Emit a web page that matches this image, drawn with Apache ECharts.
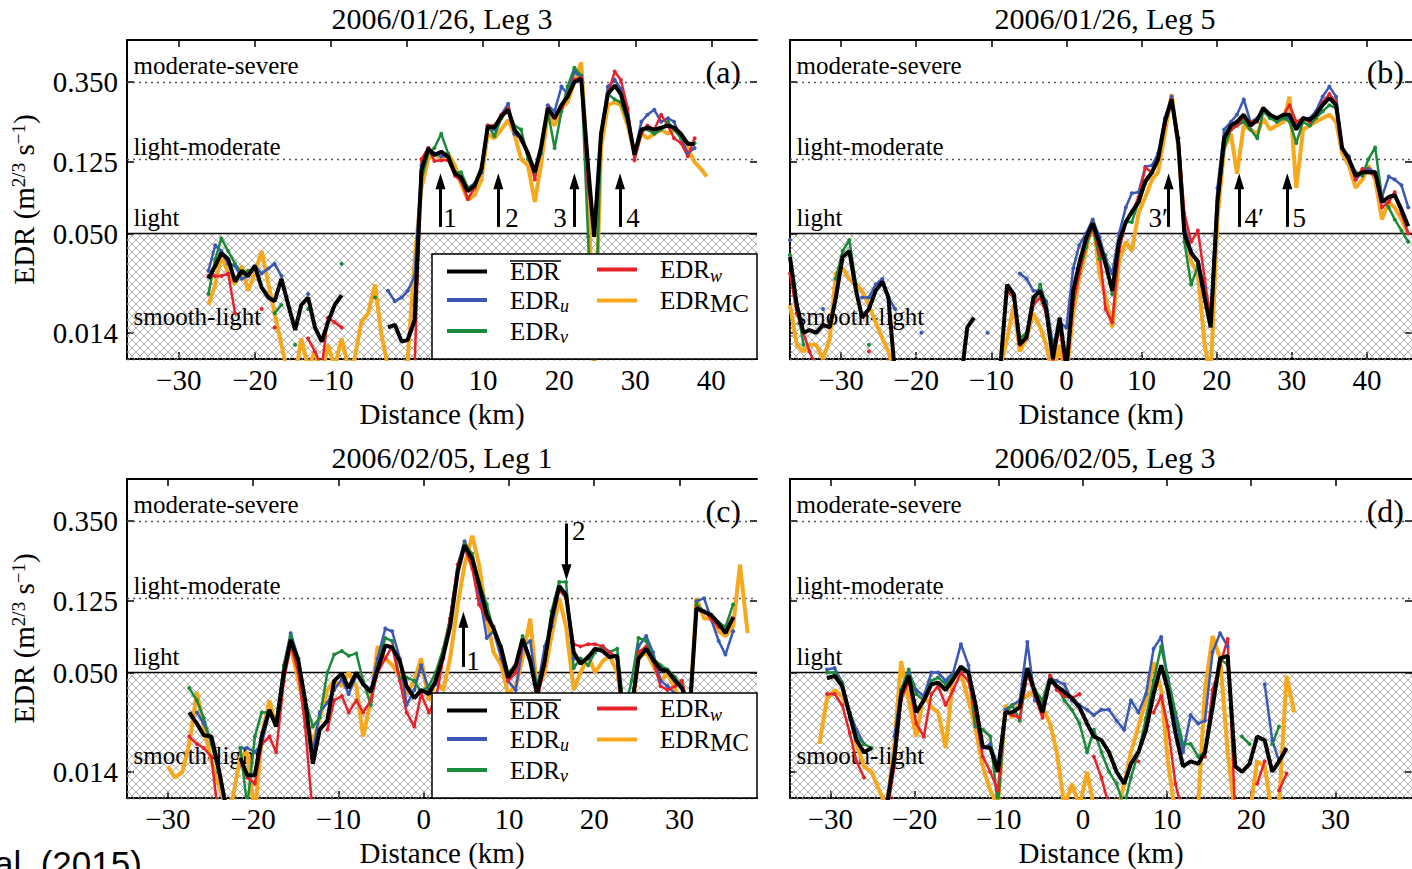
<!DOCTYPE html>
<html><head><meta charset="utf-8">
<script src="https://cdn.jsdelivr.net/npm/echarts@6/dist/echarts.min.js"></script>
<style>html,body{margin:0;padding:0;background:#fff}#c{width:1412px;height:869px}</style>
</head><body><div id="c"></div>
<script>
const _ = null;
// ---------- tick labels ----------
const xTickVals = [-30, -20, -10, 0, 10, 20, 30, 40];
const yTickVals = [0.014, 0.05, 0.125, 0.35];
const yTickLabels = ['0.014', '0.050', '0.125', '0.350'];
const thresholdVals = [0.35, 0.125, 0.05, 0.014];
const thresholdNames = ['moderate-severe', 'light-moderate', 'light', 'smooth-light'];
const seriesNames = ['EDR', 'EDRu', 'EDRv', 'EDRw', 'EDRmc'];

// ---------- panel (a) 2006/01/26, Leg 3 ----------
const distA = [-26.1,-25.2,-24.4,-23.5,-22.6,-21.7,-20.9,-20.0,-19.1,-18.2,
 -17.4,-16.5,-15.6,-14.7,-13.9,-13.0,-12.1,-11.2,-10.4,-9.5,
 -8.6,-7.7,-6.9,-6.0,-5.1,-4.2,-3.4,-2.5,-1.6,-0.7,
 0.1,1.0,1.9,2.8,3.6,4.5,5.4,6.3,7.1,8.0,
 8.9,9.8,10.6,11.5,12.4,13.3,14.1,15.0,15.9,16.8,
 17.6,18.5,19.4,20.3,21.1,22.0,22.9,23.8,24.6,25.5,
 26.4,27.3,28.1,29.0,29.9,30.8,31.6,32.5,33.4,34.3,
 35.1,36.0,36.9,37.8,38.6,39.4];
const edrA = [.028,.033,.039,.036,.027,.031,.029,.033,.025,.022,
 .021,.028,.020,.0145,.020,.022,.015,.0125,.016,.020,
 .0227,_,_,_,_,_,_,.015,.0155,.0125,
 .0128,.0165,.113,.149,.137,.143,.134,.108,.103,.086,
 .093,.115,.197,.195,.225,.245,.19,.17,.14,.11,
 .15,.25,.22,.26,.29,.35,.365,.118,.048,.18,
 .30,.335,.30,.22,.138,.19,.195,.19,.195,.20,
 .195,.18,.158,.158,_,_];
const edrUA = [.031,.043,.040,.034,.033,.028,.029,.033,.030,.032,
 .034,.029,_,_,_,.023,_,_,_,_,
 _,_,_,_,_,_,_,.024,.021,.022,
 .024,.029,.12,.15,.14,.135,.135,.11,.10,.09,
 .095,.11,.19,.19,.23,.265,.18,.17,.14,.11,
 .14,.26,.24,.33,.30,.40,.37,.12,.05,.18,
 .33,.36,.32,.23,.14,.21,.23,.245,.21,.22,
 .21,.17,.14,.15,_,_];
const edrVA = [.023,.036,.047,.040,.034,.030,.031,.032,_,_,
 .018,.020,_,.012,_,.019,_,_,_,_,
 .034,_,_,_,_,.022,_,_,_,_,
 _,.020,.10,.14,.15,.18,.14,.11,.11,.09,
 .09,.115,.20,.175,.22,.25,.20,.19,.13,.11,
 .14,.24,.15,.24,.33,.42,.38,.048,.008,.18,
 .30,.28,.27,.21,.14,.19,.19,.18,.19,.21,
 .19,.17,.16,.16,_,_];
const edrWA = [.029,.029,.029,.030,.018,_,_,_,.019,_,
 .015,_,_,_,_,.013,.011,.009,.017,.016,
 .015,_,_,_,_,_,_,_,_,_,
 .008,.009,.13,.15,.127,.128,.128,.105,.098,.078,
 .09,.12,.20,.20,.23,.25,.19,.165,.14,.10,
 .15,.25,.22,.25,.29,.36,.37,.09,.055,.17,
 .30,.40,.36,.25,.128,.18,.20,.19,.23,.20,
 .17,.16,.135,.17,_,_];
const edrMcA = [.020,.026,.038,.030,.026,.033,.024,.030,.040,.026,
 .018,.012,.008,.008,.013,.009,.011,.008,.012,.009,
 .013,.009,.010,.016,.018,.026,.014,.009,.009,.008,
 .010,.035,.09,.13,.14,.13,.14,.12,.095,.077,
 .082,.10,.18,.17,.19,.215,.18,.13,.12,.075,
 .12,.23,.20,.25,.27,.35,.45,.10,.008,.15,
 .26,.27,.26,.20,.14,.18,.17,.18,.19,.18,
 .19,.18,.15,.125,.115,.104];

// ---------- panel (b) 2006/01/26, Leg 5 ----------
const distB = [-36.8,-35.9,-35.0,-34.2,-33.3,-32.4,-31.5,-30.7,-29.8,-28.9,
 -28.0,-27.2,-26.3,-25.4,-24.5,-23.7,-22.8,-21.9,-21.0,-20.2,
 -19.3,-18.4,-17.5,-16.7,-15.8,-14.9,-14.0,-13.2,-12.3,-11.4,
 -10.5,-9.7,-8.8,-7.9,-7.0,-6.2,-5.3,-4.4,-3.5,-2.7,
 -1.8,-0.9,0.0,0.9,1.7,2.6,3.5,4.4,5.2,6.1,
 7.0,7.9,8.7,9.6,10.5,11.4,12.2,13.1,14.0,14.9,
 15.7,16.6,17.5,18.4,19.2,20.1,21.0,21.9,22.7,23.6,
 24.5,25.4,26.2,27.1,28.0,28.9,29.7,30.6,31.5,32.4,
 33.2,34.1,35.0,35.9,36.7,37.6,38.5,39.4,40.2,41.1,
 42.0,42.9,43.7,44.6,45.5];
const edrB = [.037,.020,.014,.0145,.014,.0155,.015,.022,.037,.040,
 .024,.017,.019,.024,.027,.022,.008,_,_,_,
 _,_,_,_,_,_,.008,.015,.017,_,
 _,_,.009,.026,.023,.012,.0133,.022,.024,.019,
 .010,.017,.009,.024,.034,.047,.057,.044,.034,.024,
 .045,.058,.066,.075,.098,.11,.13,.21,.28,.16,
 .05,.039,.035,.022,.015,.075,.17,.20,.21,.23,
 .20,.215,.25,.23,.22,.23,.23,.19,.22,.215,
 .23,.26,.285,.26,.15,.13,.105,.11,.11,.11,
 .075,.08,.082,.068,.055];
const edrUB = [.046,_,_,_,_,.019,_,_,_,_,
 _,.022,.022,.026,.028,.022,.019,_,_,_,
 .014,_,_,_,_,_,_,_,_,_,
 .014,_,_,_,_,.030,.028,.024,.024,.021,
 .012,.016,.015,.032,.043,.050,.060,.048,.036,.030,
 .050,.070,.084,.085,.118,.12,.14,.22,.29,.17,
 .055,.04,.034,.025,.018,.09,.19,.21,.23,.28,
 .21,.22,.24,.23,.21,.22,.22,.20,.22,.22,
 .24,.29,.33,.29,.15,.135,.10,.11,.115,.11,
 .08,.104,.10,.093,.07];
const edrVB = [.038,.020,.012,_,_,_,_,.028,.040,.046,
 .026,_,.012,_,_,_,_,_,_,_,
 _,_,_,_,_,_,_,_,_,_,
 _,_,_,.024,.022,.013,.014,.020,.026,.020,
 .011,.016,.009,.022,.030,.042,.055,.036,.038,.023,
 .045,.058,.058,.075,.095,.11,.13,.21,.27,.15,
 .045,.026,.033,.021,.016,.07,.15,.19,.20,.21,
 .19,.17,.24,.22,.21,.22,.21,.16,.21,.20,
 .22,.24,.26,.25,.15,.13,.11,.105,.13,.151,
 .08,.07,.06,.052,.045];
const edrWB = [.030,.018,.014,.011,.009,_,_,_,_,_,
 _,_,.011,_,_,_,_,_,_,_,
 _,_,_,_,_,_,_,_,_,_,
 _,_,_,.024,.022,.012,.013,.020,.022,.018,
 .010,.015,.008,.020,.030,.045,.055,.040,.019,.016,
 .040,.058,.065,.080,.116,.11,.13,.20,.28,.17,
 .065,.045,.052,.028,.016,.08,.17,.189,.20,.22,
 .21,.21,.25,.23,.22,.23,.26,.21,.22,.21,
 .23,.27,.30,.27,.15,.13,.10,.115,.11,.105,
 .07,.075,.085,.065,.05];
const edrMcB = [.020,.012,.011,.012,.012,.010,.013,.030,.032,.028,
 .026,.024,.020,.016,.013,.011,.008,_,_,_,
 _,_,_,_,_,_,_,_,_,_,
 _,_,.009,.013,.020,.011,.013,.018,.015,.012,
 .008,.012,.008,.018,.028,.040,.060,.030,.022,.015,
 .035,.045,.040,.065,.080,.10,.11,.18,.30,.15,
 .055,.035,.030,.012,.008,.06,.15,.18,.108,.20,
 .19,.18,.22,.19,.20,.21,.29,.09,.19,.20,
 .21,.22,.23,.21,.14,.12,.09,.10,.12,.10,
 .06,.075,.07,.06,.05];

// ---------- panel (c) 2006/02/05, Leg 1 ----------
const distC = [-30.0,-29.2,-28.3,-27.5,-26.6,-25.8,-24.9,-24.1,-23.2,-22.4,
 -21.5,-20.7,-19.8,-19.0,-18.1,-17.3,-16.4,-15.6,-14.7,-13.9,
 -13.0,-12.2,-11.3,-10.5,-9.6,-8.8,-7.9,-7.1,-6.2,-5.4,
 -4.5,-3.7,-2.8,-2.0,-1.1,-0.3,0.6,1.4,2.3,3.1,
 4.0,4.8,5.7,6.5,7.4,8.2,9.1,9.9,10.8,11.6,
 12.5,13.3,14.2,15.0,15.9,16.7,17.6,18.4,19.3,20.1,
 21.0,21.8,22.7,23.5,24.4,25.2,26.1,26.9,27.8,28.6,
 29.5,30.3,31.2,32.0,32.9,33.7,34.6,35.4,36.3,37.1,
 38.0,38.8];
const edrC = [_,_,_,.030,.026,.0224,.022,.015,.009,_,
 .0167,.0134,.0134,.022,.031,.025,.050,.076,.058,.035,
 .0155,.024,.027,.045,.0495,.041,.050,.043,.039,.052,
 .071,.069,.058,.042,.036,.040,.038,.045,.062,.090,
 .183,.256,.215,.155,.105,.088,.068,.047,.055,.077,
 .058,.038,.058,.100,.152,.135,.065,.056,.061,.068,
 .066,.061,.062,.025,.032,.060,.068,.059,.052,.051,
 .045,.041,.030,.114,.109,.105,.094,.083,.102,_,
 _,_];
const edrUC = [_,_,_,_,.030,.026,.021,_,_,_,
 .019,.019,.018,.020,.030,.026,.055,.083,.060,.033,
 .018,.030,.034,.040,.046,.038,.048,.044,.040,.060,
 .088,.085,.060,.033,.040,.055,.040,.043,.060,.100,
 .200,.270,.220,.140,.078,.085,.060,.045,.040,.070,
 .075,.040,.070,.090,.145,.140,.060,.058,.060,.065,
 .070,.065,.060,.030,.030,.070,.080,.065,.045,.042,
 .038,.035,.030,.125,.130,.100,.075,.063,.085,_,
 _,_];
const edrVC = [_,_,_,.041,.035,.028,.020,.014,_,_,
 .019,.009,.022,.030,.030,.027,.055,.080,.060,.035,
 .025,.028,.050,.063,.066,.062,.064,.045,.033,.055,
 .078,.075,.046,.047,.045,.039,.042,.050,.068,.100,
 .190,.260,.230,.160,.120,.085,.070,.050,.055,.080,
 .060,.042,.060,.110,.160,.160,.053,.060,.055,.065,
 .070,.065,.068,.030,.045,.078,.075,.060,.055,.052,
 .047,.042,.033,.120,.110,.105,.095,.090,.120,_,
 _,_];
const edrWC = [_,_,_,.022,.020,.019,.017,.008,_,_,
 _,.013,.012,.020,.022,.018,.045,.071,.050,.025,
 .008,_,.024,.035,.037,.030,.035,.030,.035,.050,
 .060,.070,.045,.030,.025,.038,.030,.035,.060,.100,
 .200,.250,.190,.120,.100,.090,.065,.045,.050,.072,
 .060,.035,.055,.100,.145,.130,.072,.070,.072,.072,
 .070,.065,.060,.020,.030,.065,.070,.058,.042,.040,
 .042,.045,.030,.115,.110,.100,.090,.085,.100,_,
 _,_];
const edrMcC = [.015,.013,.014,.020,.039,.025,.016,.012,.009,.010,
 .017,.018,.008,.022,.035,.025,.050,.070,.045,.030,
 .020,.028,.040,.045,.042,.050,.042,.022,.035,.070,
 .060,.055,.048,.038,.045,.060,.035,.045,.040,.060,
 .120,.200,.290,.200,.100,.065,.055,.038,.042,.060,
 .100,.040,.050,.080,.130,.090,.040,.050,.062,.050,
 .058,.062,.050,.030,.030,.060,.065,.055,.045,.050,
 .040,.035,.030,.130,.100,.100,.085,.080,.090,.200,
 .083,_];

// ---------- panel (d) 2006/02/05, Leg 3 ----------
const distD = [-31.3,-30.4,-29.5,-28.6,-27.7,-26.9,-26.0,-25.1,-24.2,-23.3,
 -22.4,-21.6,-20.7,-19.8,-18.9,-18.0,-17.2,-16.3,-15.4,-14.5,
 -13.6,-12.8,-11.9,-11.0,-10.1,-9.2,-8.4,-7.5,-6.6,-5.7,
 -4.8,-3.9,-3.1,-2.2,-1.3,-0.4,0.5,1.3,2.2,3.1,
 4.0,4.9,5.7,6.6,7.5,8.4,9.3,10.1,11.0,11.9,
 12.8,13.7,14.5,15.4,16.3,17.2,18.1,18.9,19.8,20.7,
 21.6,22.5,23.3,24.2,25.1];
const edrD = [_,.0465,.048,.042,.029,.021,.018,.019,_,.009,
 .017,.038,.048,.030,.035,.043,.044,.040,.046,.054,
 .050,.034,.0193,.019,.014,.030,.030,.032,.053,.039,
 .030,.046,.042,.039,.036,.032,.026,.022,.021,.018,
 .014,.012,.0155,.018,.024,.038,.055,.040,.023,.015,
 .016,.0155,.018,.032,.060,.062,.015,.014,.0155,.022,
 .021,.014,.016,.019,_];
const edrUD = [_,.052,.053,.044,.030,.024,.020,_,_,_,
 .022,.040,.050,.040,.037,.050,.050,.045,.050,.072,
 .055,.032,.019,.020,.015,.031,.033,.035,.074,.035,
 .034,.046,.045,.043,.035,.033,.031,.029,.031,.031,
 .027,.024,.035,.030,.038,.068,.079,.045,.028,.018,
 .029,.026,.027,.065,.083,.070,_,_,_,_,
 .043,.021,.016,_,_];
const edrVD = [_,.050,.050,.044,.028,.022,.020,.019,_,_,
 _,.040,.052,.038,.035,.045,.047,.043,.048,.052,
 .050,.025,.024,.022,.009,.030,.033,.027,.050,.040,
 .035,.048,.042,.035,.031,.026,.018,.024,.018,.014,
 .012,.009,.013,.018,.028,.045,.070,.047,.030,.020,
 .020,.017,.018,.032,.060,.055,_,.022,.020,_,
 _,.020,.025,_,_];
const edrWD = [_,.038,.038,.033,.023,.016,.013,_,_,.008,
 .015,.035,.045,.026,.022,.038,.042,.033,.040,.050,
 .045,.030,.017,.014,.011,.030,.029,.028,.050,.037,
 .028,.048,.040,.037,.036,.038,_,.017,.013,.009,
 _,_,_,.016,_,.030,.037,.025,.012,.008,
 _,_,.017,.040,.055,.077,.008,_,_,.012,
 .016,_,.011,.0137,_];
const edrMcD = [.020,.036,.040,.037,.030,.020,.015,.014,.011,.009,
 .020,.058,.035,.022,.038,.032,.030,.019,.048,.050,
 .035,.025,.015,.011,.009,.033,.028,.035,.037,.040,
 .032,.026,.018,.009,.012,.009,.014,.009,.008,.008,
 .008,.012,.018,.025,.035,.057,.040,.016,.008,.008,
 .008,.009,.040,.080,.060,.018,.008,.008,.008,.016,
 .015,.008,.009,.048,.030];

// ---------- layout / styling ----------
const SERIF = '"Liberation Serif","Times New Roman",serif';
const COL = {EDR:'#000000', EDRu:'#3b58b6', EDRv:'#1b8a3a', EDRw:'#e8222a', EDRmc:'#f7a81d'};
const hatch = 'data:image/svg+xml;utf8,' + encodeURIComponent(
  "<svg xmlns='http://www.w3.org/2000/svg' width='8' height='8'><path d='M0,0L8,8M8,0L0,8' stroke='#9c9c9c' stroke-width='0.8' fill='none'/></svg>");

const panels = [
  {dist:distA, e:edrA, u:edrUA, v:edrVA, w:edrWA, mc:edrMcA, xr:[-36.8, 46.0], left:127, top:40,
   title:'2006/01/26, Leg 3', tag:'(a)', yLabels:true, legend:true,
   arrows:[[4.4,.0545,.098],[12.0,.0545,.098],[22.0,.0545,.098],[28.0,.0545,.098]],
   marks:[[5.65,.0607,'1'],[13.8,.0607,'2'],[20.1,.0607,'3'],[29.7,.0607,'4']]},
  {dist:distB, e:edrB, u:edrUB, v:edrVB, w:edrWB, mc:edrMcB, xr:[-36.8, 46.0], left:790, top:40,
   title:'2006/01/26, Leg 5', tag:'(b)', yLabels:false, legend:false,
   arrows:[[13.6,.0545,.098],[23.0,.0545,.098],[29.4,.0545,.098]],
   marks:[[12.2,.0607,'3\u2032'],[25.0,.0607,'4\u2032'],[31.0,.0607,'5']]},
  {dist:distC, e:edrC, u:edrUC, v:edrVC, w:edrWC, mc:edrMcC, xr:[-34.8, 39.1], left:127, top:479,
   title:'2006/02/05, Leg 1', tag:'(c)', yLabels:true, legend:true,
   arrows:[[4.66,.0538,.0985],[16.75,.339,.1815]],
   marks:[[5.8,.0584,'1'],[18.2,.308,'2']]},
  {dist:distD, e:edrD, u:edrUD, v:edrVD, w:edrWD, mc:edrMcD, xr:[-34.8, 39.1], left:790, top:479,
   title:'2006/02/05, Leg 3', tag:'(d)', yLabels:false, legend:false, arrows:[], marks:[]}
];
const W = 630, H = 319;
const Y0 = 0.01, Y1 = 0.6;

const pairs = (d, v) => d.map((x, i) => [x, v[i] === null ? '-' : v[i]]);
const fmtX = v => (v < 0 ? '\u2212' + Math.abs(v) : String(v));
const frame = {show:true, onZero:false, lineStyle:{color:'#000', width:2}};
const tickSt = {color:'#000', width:1.5};
const noPt = {symbol:'rect', symbolSize:1, itemStyle:{color:'rgba(0,0,0,0)'}};

const grid = [], xAxis = [], yAxis = [], series = [];
panels.forEach((p, g) => {
  grid.push({left:p.left, top:p.top, width:W, height:H});
  const xt = xTickVals.filter(t => t >= p.xr[0] && t <= p.xr[1]);
  xAxis.push({type:'value', gridIndex:g, position:'bottom', min:p.xr[0], max:p.xr[1],
    axisLine:frame, splitLine:{show:false},
    axisTick:{show:true, inside:true, length:7, customValues:xt, lineStyle:tickSt},
    axisLabel:{show:true, customValues:xt, formatter:fmtX, margin:6, color:'#000', fontSize:29, fontFamily:SERIF},
    name:'Distance (km)', nameLocation:'middle', nameGap:40,
    nameTextStyle:{color:'#000', fontSize:29, fontFamily:SERIF}});
  xAxis.push({type:'value', gridIndex:g, position:'top', min:p.xr[0], max:p.xr[1],
    axisLine:frame, splitLine:{show:false},
    axisTick:{show:true, inside:true, length:7, customValues:xt, lineStyle:tickSt},
    axisLabel:{show:false}});
  // data axis (log scale)
  yAxis.push({type:'log', logBase:10, gridIndex:g, position:'left', min:Y0, max:Y1,
    axisLine:frame, axisTick:{show:false}, axisLabel:{show:false}, splitLine:{show:false}, minorTick:{show:false}});
  // tick axes placed in log10 space of the same range
  const lt = yTickVals.map(Math.log10);
  const yl = {type:'value', gridIndex:g, min:Math.log10(Y0), max:Math.log10(Y1),
    axisLine:{show:false, onZero:false}, splitLine:{show:false},
    axisTick:{show:true, inside:true, length:7, customValues:lt, lineStyle:tickSt}};
  yAxis.push(Object.assign({}, yl, {position:'left',
    axisLabel:{show:p.yLabels, customValues:lt, margin:9, color:'#000', fontSize:29, fontFamily:SERIF,
      formatter:v => { const k = lt.findIndex(t => Math.abs(t - v) < 1e-6); return k >= 0 ? yTickLabels[k] : ''; }},
    name:p.yLabels ? '{n|EDR (m}{p|2/3}{n| s}{p|\u22121}{n|)}' : '', nameLocation:'middle', nameGap:86, nameRotate:90,
    nameTextStyle:{color:'#000', fontFamily:SERIF, rich:{
      n:{fontSize:29, fontFamily:SERIF, color:'#000', lineHeight:34},
      p:{fontSize:19, fontFamily:SERIF, color:'#000', lineHeight:34, padding:[0,0,12,0]}}}}));
  yAxis.push(Object.assign({}, yl, {position:'right', axisLabel:{show:false}}));

  const xi = 2 * g, yi = 3 * g;
  const base = {type:'line', xAxisIndex:xi, yAxisIndex:yi, animation:false, clip:true, silent:true};
  series.push(Object.assign({}, base, {name:'EDRmc', data:pairs(p.dist, p.mc), symbol:'none', z:2,
    lineStyle:{color:COL.EDRmc, width:4}, itemStyle:{color:COL.EDRmc},
    markArea:{silent:true, z:1, itemStyle:{color:{image:hatch, repeat:'repeat', imageWidth:8, imageHeight:8}, borderWidth:0},
      data:[[{xAxis:p.xr[0], yAxis:Y0}, {xAxis:p.xr[1], yAxis:0.05}]]},
    markLine:{silent:true, symbol:'none', z:1, animation:false, label:{show:false},
      data:thresholdVals.map(t => ({yAxis:t,
        lineStyle: t === 0.05 ? {type:'solid', color:'#000', width:1.3} : {type:[2, 4], color:'#555', width:1.3}}))},
    markPoint:Object.assign({silent:true, animation:false, z:1,
      label:{show:true, position:[7, -28], formatter:'{b}', color:'#000', fontSize:25, fontFamily:SERIF},
      data:thresholdVals.map((t, k) => ({name:thresholdNames[k], coord:[p.xr[0], t]}))}, noPt)}));
  ['EDRu', 'EDRv', 'EDRw'].forEach(n => {
    const vals = {EDRu:p.u, EDRv:p.v, EDRw:p.w}[n];
    series.push(Object.assign({}, base, {name:n, data:pairs(p.dist, vals), symbol:'circle', symbolSize:4,
      showSymbol:true, showAllSymbol:true, z:3,
      lineStyle:{color:COL[n], width:2.5}, itemStyle:{color:COL[n]}}));
  });
  series.push(Object.assign({}, base, {name:'EDR', data:pairs(p.dist, p.e), symbol:'none', z:4,
    lineStyle:{color:'#000', width:4}, itemStyle:{color:'#000'},
    markLine:{silent:true, symbol:['none', 'triangle'], symbolSize:[10, 16], animation:false,
      lineStyle:{type:'solid', color:'#000', width:3}, label:{show:false},
      data:p.arrows.map(a => [{coord:[a[0], a[1]]}, {coord:[a[0], a[2]]}])},
    markPoint:Object.assign({silent:true, animation:false,
      label:{show:true, position:'inside', formatter:'{b}', color:'#000', fontSize:27, fontFamily:SERIF},
      data:p.marks.map(m => ({name:m[2], coord:[m[0], m[1]]}))}, noPt)}));
});

const legRich = {
  g:{fontSize:25, fontFamily:SERIF, width:18, lineHeight:30},
  b:{fontSize:25, fontFamily:SERIF, color:'#000', lineHeight:30},
  s:{fontSize:18, fontFamily:SERIF, fontStyle:'italic', color:'#000', lineHeight:20, verticalAlign:'bottom'},
  m:{fontSize:25, fontFamily:SERIF, color:'#000', lineHeight:18, verticalAlign:'bottom'}
};
const legText = {
  EDR:'{g| }{b|EDR}', EDRu:'{g| }{b|EDR}{s|u}', EDRv:'{g| }{b|EDR}{s|v}', EDRw:'{g| }{b|EDR}{s|w}', EDRmc:'{g| }{b|EDR}{m|MC}'
};
const legCommon = {orient:'vertical', selectedMode:false, icon:'rect', itemWidth:40, itemHeight:4, itemGap:3.5,
  padding:0, z:60, formatter:n => legText[n], textStyle:{fontFamily:SERIF, fontSize:25, color:'#000', rich:legRich}};
const legend = [];
const graphic = [];
panels.forEach(p => {
  graphic.push({type:'text', x:p.left + W / 2, y:p.top - 22, z:70,
    style:{text:p.title, font:'30px ' + SERIF, fill:'#000', textAlign:'center', textVerticalAlign:'middle', verticalAlign:'middle'}});
  graphic.push({type:'text', x:p.left + 614, y:p.top + 32, z:70,
    style:{text:p.tag, font:'32px ' + SERIF, fill:'#000', textAlign:'right', textVerticalAlign:'middle', verticalAlign:'middle'}});
  if (p.legend) {
    legend.push(Object.assign({}, legCommon, {data:['EDR', 'EDRu', 'EDRv'], left:447, top:p.top + 219}));
    legend.push(Object.assign({}, legCommon, {data:['EDRw', 'EDRmc'], left:597, top:p.top + 217}));
    graphic.push({type:'rect', z:50, shape:{x:432, y:p.top + 214, width:325, height:105},
      style:{fill:'#fff', stroke:'#000', lineWidth:1.5}});
    // overline of the mean EDR symbol in the legend
    graphic.push({type:'line', z:70, shape:{x1:510, y1:p.top + 221, x2:561, y2:p.top + 221},
      style:{stroke:'#000', lineWidth:1.3}});
  }
});
graphic.push({type:'text', x:-6, y:846, z:70,
  style:{text:'al. (2015)', font:'35px "Liberation Sans", Arial, sans-serif', fill:'#000', textVerticalAlign:'top', verticalAlign:'top'}});

const chart = echarts.init(document.getElementById('c'), null, {renderer:'svg'});
chart.setOption({backgroundColor:'#fff', animation:false, grid, xAxis, yAxis, series, legend, graphic});
</script></body></html>
